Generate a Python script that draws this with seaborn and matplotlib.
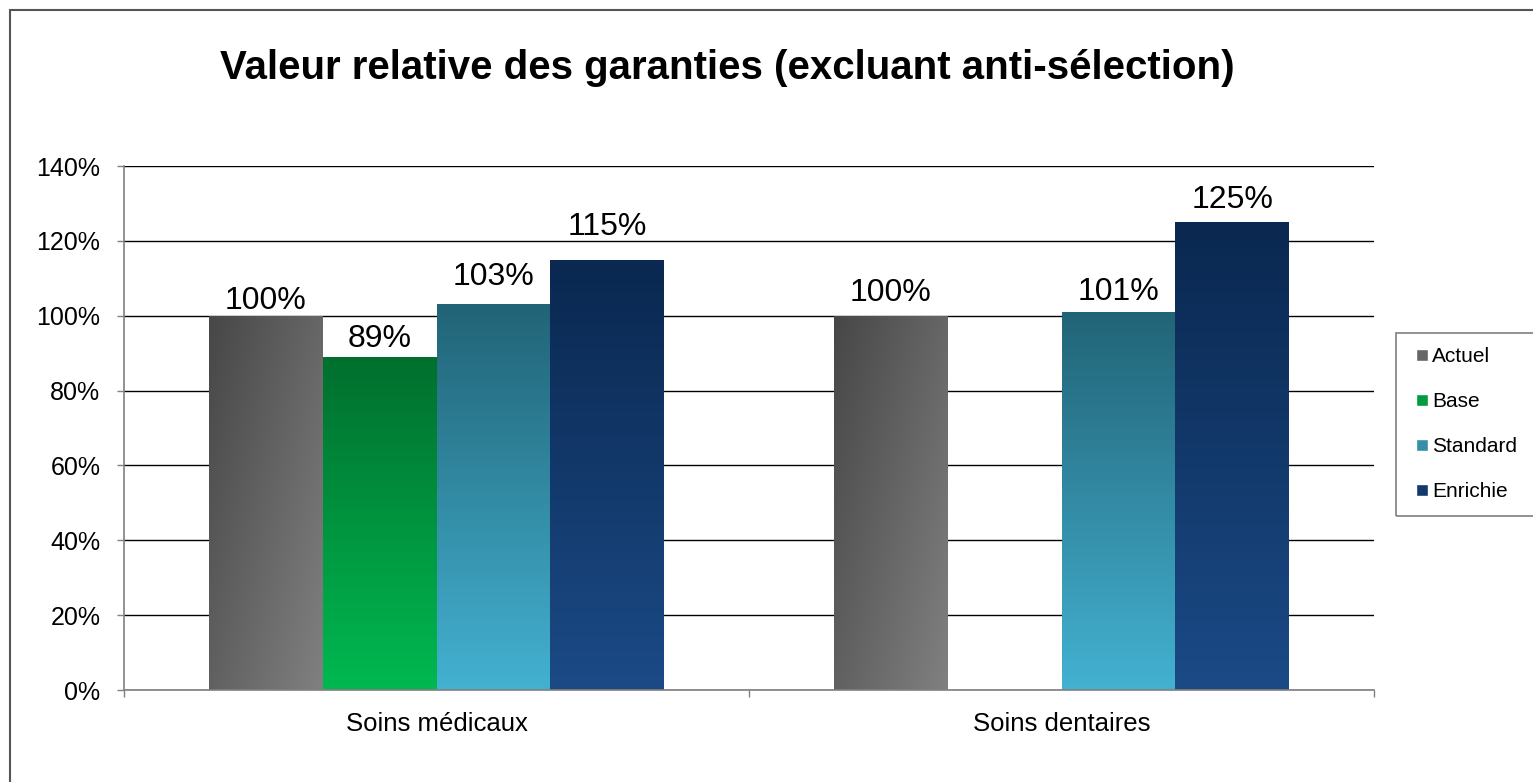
import numpy as np
import pandas as pd
import matplotlib.pyplot as plt
import seaborn as sns
from matplotlib.patches import Rectangle
from matplotlib.colors import LinearSegmentedColormap

# Données
categories = ['Soins médicaux', 'Soins dentaires']
series = ['Actuel', 'Base', 'Standard', 'Enrichie']
medicaux = [100, 89, 103, 115]
dentaires = [100, None, 101, 125]   # pas de "Base" pour le dentaire
yticks = [0, 20, 40, 60, 80, 100, 120, 140]
titre = 'Valeur relative des garanties (excluant anti-sélection)'

# dégradés (haut -> bas), style Excel
top_colors = ['#474747', '#006f2e', '#226477', '#0a2850']
bottom_colors = ['#808080', '#00b950', '#43b1d1', '#1b4a86']
mid_colors = ['#666666', '#009a40', '#358fa8', '#13386b']
# décalage des étiquettes (pt) comme dans l'original Excel
label_pad = [[0, 5.5], [2], [9, 3.5], [12.5, 5]]

rows = []
for cat, vals in zip(categories, [medicaux, dentaires]):
    for s, v in zip(series, vals):
        if v is not None:
            rows.append({'cat': cat, 'serie': s, 'val': v})
df = pd.DataFrame(rows)

sns.set_theme(style='white')
plt.rcParams['font.family'] = ['Liberation Sans', 'DejaVu Sans']
plt.rcParams['text.color'] = 'black'
plt.rcParams['xtick.color'] = 'black'
plt.rcParams['ytick.color'] = 'black'

W, H = 1533, 782
fig = plt.figure(figsize=(W / 100, H / 100), dpi=100)
ax = fig.add_axes([124 / W, 92 / H, 1250 / W, 524 / H])

sns.barplot(data=df, x='cat', y='val', hue='serie', order=categories,
            hue_order=series, palette=mid_colors, width=0.728, gap=0,
            saturation=1, linewidth=0, legend=False, ax=ax)

# remplissage en dégradé de chaque barre
for i, cont in enumerate(ax.containers):
    cmap = LinearSegmentedColormap.from_list('g%d' % i, [top_colors[i], bottom_colors[i]])
    for p in cont.patches:
        x0, y0, w, h = p.get_x(), p.get_y(), p.get_width(), p.get_height()
        if i == 0:
            X, Y = np.meshgrid(np.linspace(0, 1, 60), np.linspace(0, 1, 200))
            img = 0.55 * X + 0.45 * Y
        else:
            img = np.linspace(0, 1, 200).reshape(-1, 1)
        im = ax.imshow(img, cmap=cmap, extent=[x0, x0 + w, y0, y0 + h],
                       origin='upper', aspect='auto', zorder=p.get_zorder(),
                       interpolation='bilinear', vmin=0, vmax=1)
        im.set_clip_path(p)
    labels = ax.bar_label(cont, fmt='{:.0f}%', padding=0, fontsize=23, color='black')
    for t, pad in zip(labels, label_pad[i]):
        t.xyann = (0, pad)

ax.set_xlim(-0.5, 1.5)
ax.set_ylim(0, 140)
ax.set_yticks(yticks)
ax.set_yticklabels([f'{t}%' for t in yticks])
ax.set_xlabel('')
ax.set_ylabel('')

ax.yaxis.grid(True, color='black', linewidth=1)
ax.set_axisbelow(True)
for side in ['top', 'right']:
    ax.spines[side].set_visible(False)
for side in ['left', 'bottom']:
    ax.spines[side].set_color('#808080')
    ax.spines[side].set_linewidth(1.2)

ax.tick_params(axis='y', which='major', direction='out', length=5, width=1,
               color='#808080', labelcolor='black', labelsize=18, pad=12, left=True)
ax.set_xticks([-0.5, 0.5, 1.5], minor=True)
ax.tick_params(axis='x', which='major', length=0, labelsize=18.5, pad=16,
               labelcolor='black')
ax.tick_params(axis='x', which='minor', direction='out', length=5, width=1,
               color='#808080', bottom=True)

fig.text(727 / W, 1 - 68 / H, titre, ha='center', va='center',
         fontsize=29, fontweight='bold', color='black')

# légende
handles = [Rectangle((0, 0), 1, 1, facecolor=c) for c in mid_colors]
fig.legend(handles, series, loc='upper left', bbox_to_anchor=(1408 / W, 1 - 339 / H),
           frameon=False, fontsize=15, handlelength=0.55, handleheight=0.55,
           handletextpad=0.2, labelspacing=1.25, borderaxespad=0,
           labelcolor='black')
fig.patches.append(Rectangle((1396 / W, 1 - 516 / H), 200 / W, 183 / H,
                             transform=fig.transFigure, fill=False,
                             edgecolor='#7f7f7f', linewidth=1.2))
# cadre extérieur
fig.patches.append(Rectangle((10 / W, -0.1), 1.2, 1.1 - 10 / H,
                             transform=fig.transFigure, fill=False,
                             edgecolor='#555555', linewidth=1.5))

fig.savefig('out.png', dpi=100)
